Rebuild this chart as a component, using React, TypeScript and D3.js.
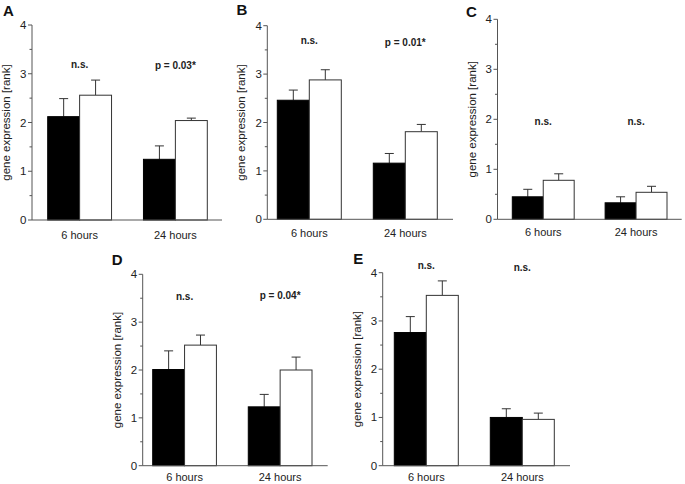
import React from "react";
import * as d3 from "d3";

const categories = ["6 hours", "24 hours"];
const yTicks = [0, 1, 2, 3, 4];
const yMinorTicks = [0.5, 1.5, 2.5, 3.5];
const panelLetters = ["A", "B", "C", "D", "E"];

// [6 hours, 24 hours] for each panel A..E
const blackMeans = [
  [2.12, 1.245],
  [2.46, 1.16],
  [0.45, 0.33],
  [2.01, 1.23],
  [2.76, 1.0],
];
const blackErrors = [
  [0.37, 0.275],
  [0.21, 0.2],
  [0.15, 0.12],
  [0.39, 0.26],
  [0.33, 0.18],
];
const whiteMeans = [
  [2.56, 2.04],
  [2.88, 1.81],
  [0.78, 0.54],
  [2.52, 2.0],
  [3.53, 0.96],
];
const whiteErrors = [
  [0.31, 0.05],
  [0.21, 0.15],
  [0.13, 0.12],
  [0.21, 0.27],
  [0.3, 0.13],
];
const annotations = [
  ["n.s.", "p = 0.03*"],
  ["n.s.", "p = 0.01*"],
  ["n.s.", "n.s."],
  ["n.s.", "p = 0.04*"],
  ["n.s.", "n.s."],
];
const annotationY = [
  [3.2, 3.16],
  [3.69, 3.66],
  [1.95, 1.95],
  [3.53, 3.55],
  [4.15, 4.1],
];

// layout (pixels)
const layouts = [
  { axisX: 32, top: 25, bottom: 220, xEnd: 222, b0: 47.7, b1: 207.3, lx: 3, ly: 15.5, labY: 239 },
  { axisX: 267.3, top: 25.7, bottom: 219.3, xEnd: 453, b0: 277.3, b1: 437.3, lx: 236.5, ly: 14.5, labY: 237 },
  { axisX: 497.5, top: 19.3, bottom: 219.3, xEnd: 681.7, b0: 512.3, b1: 667, lx: 466, ly: 16.5, labY: 236 },
  { axisX: 142.7, top: 274.3, bottom: 465.7, xEnd: 327.7, b0: 152.7, b1: 312, lx: 111.7, ly: 265, labY: 481 },
  { axisX: 382.7, top: 272.7, bottom: 465.7, xEnd: 570, b0: 394.3, b1: 554.3, lx: 353.3, ly: 264, labY: 481 },
];

const FONT = "Arial, 'Liberation Sans', Helvetica, sans-serif";
const AXIS = "#555";
const TEXT = "#222";

function Panel({ i }: { i: number }) {
  const L = layouts[i];
  const y = d3.scaleLinear().domain([0, 4]).range([L.bottom, L.top]);
  const x = d3.scaleBand<string>().domain(categories).range([L.b0, L.b1]).paddingInner(1 / 3).paddingOuter(0);
  const sub = d3.scaleBand<string>().domain(["black", "white"]).range([0, x.bandwidth()]);
  const capW = 4.5;
  return (
    <g>
      <text x={L.lx} y={L.ly} fontFamily={FONT} fontWeight="bold" fontSize={15} fill="#111">
        {panelLetters[i]}
      </text>
      <text
        transform={`translate(${L.axisX - 22},${(L.top + L.bottom) / 2}) rotate(-90)`}
        textAnchor="middle"
        fontFamily={FONT}
        fontSize={11.5}
        fill={TEXT}
      >
        gene expression [rank]
      </text>
      {categories.map((c, j) => {
        const x0 = x(c)!;
        const bars = [
          { key: "black", m: blackMeans[i][j], e: blackErrors[i][j] },
          { key: "white", m: whiteMeans[i][j], e: whiteErrors[i][j] },
        ];
        return (
          <g key={c}>
            {bars.map((b) => {
              const bx = x0 + sub(b.key)!;
              const bw = sub.bandwidth();
              const cx = bx + bw / 2;
              const yt = y(b.m);
              const ye = y(b.m + b.e);
              return (
                <g key={b.key}>
                  <line x1={cx} x2={cx} y1={yt} y2={ye} stroke="#333" strokeWidth={1} />
                  <line x1={cx - capW} x2={cx + capW} y1={ye} y2={ye} stroke="#333" strokeWidth={1} />
                  <rect
                    x={bx}
                    y={yt}
                    width={bw}
                    height={L.bottom - yt}
                    fill={b.key === "black" ? "#000" : "#fff"}
                    stroke={b.key === "black" ? "#000" : "#333"}
                    strokeWidth={1}
                  />
                </g>
              );
            })}
            <text
              x={x0 + x.bandwidth() / 2}
              y={y(annotationY[i][j]) + 3.5}
              textAnchor="middle"
              fontFamily={FONT}
              fontWeight="bold"
              fontSize={10}
              fill="#222"
            >
              {annotations[i][j]}
            </text>
            <text
              x={x0 + x.bandwidth() / 2}
              y={L.labY}
              textAnchor="middle"
              fontFamily={FONT}
              fontSize={11}
              fill={TEXT}
            >
              {c}
            </text>
          </g>
        );
      })}
      <line x1={L.axisX} x2={L.axisX} y1={L.top} y2={L.bottom} stroke={AXIS} strokeWidth={1} />
      <line x1={L.axisX} x2={L.xEnd} y1={L.bottom} y2={L.bottom} stroke={AXIS} strokeWidth={1} />
      {yTicks.map((t) => (
        <g key={t}>
          <line x1={L.axisX - 4} x2={L.axisX} y1={y(t)} y2={y(t)} stroke={AXIS} strokeWidth={1} />
          <text
            x={L.axisX - 5.5}
            y={y(t) + 4}
            textAnchor="end"
            fontFamily={FONT}
            fontSize={11.5}
            fill={TEXT}
          >
            {t}
          </text>
        </g>
      ))}
      {yMinorTicks.map((t) => (
        <line key={t} x1={L.axisX - 2.5} x2={L.axisX} y1={y(t)} y2={y(t)} stroke={AXIS} strokeWidth={1} />
      ))}
    </g>
  );
}

export default function App() {
  return (
    <svg
      width={685}
      height={484}
      style={{ position: "absolute", left: 0, top: 0, background: "#fff" }}
    >
      <rect width={685} height={484} fill="#fff" />
      {layouts.map((_, i) => (
        <Panel key={i} i={i} />
      ))}
    </svg>
  );
}
